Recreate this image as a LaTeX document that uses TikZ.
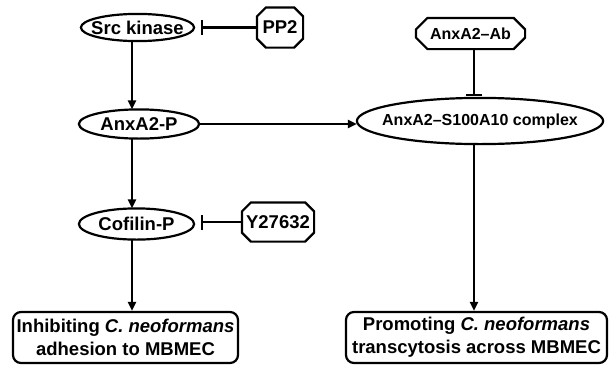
\documentclass[tikz,border=0pt]{standalone}
\usepackage{fontspec}
\setmainfont{Liberation Sans}
\usetikzlibrary{arrows.meta, calc}

\begin{document}
\begin{tikzpicture}[
    x=1pt, y=-1pt,
    line width=2.2pt,
    >={Triangle[length=9pt, width=8pt]},
    every node/.style={font=\fontsize{18.5}{23}\selectfont\bfseries},
    oval/.style={rectangle, inner sep=0pt},
    drug/.style={rectangle, inner sep=0pt},
    outcome/.style={draw, rounded corners=8pt, align=center, inner sep=1pt},
    smallfont/.style={font=\fontsize{16}{19}\selectfont\bfseries},
]
    \useasboundingbox (0,0) rectangle (609,375);

    % columns of the vertical connectors
    \coordinate (lcol) at (132,0);
    \coordinate (rcol) at (474,0);

    % left pathway
    \node[oval, minimum width=111pt, minimum height=25pt] (src) at (137.5,27.5) {Src kinase};
    \node[drug, minimum width=44pt, minimum height=38pt] (pp2) at (280,27.5) {PP2};
    \node[oval, minimum width=118pt, minimum height=27pt] (anxp) at (139,124) {AnxA2-P};
    \node[oval, minimum width=113pt, minimum height=29pt] (cof) at (136.5,224) {Cofilin-P};
    \node[drug, minimum width=70pt, minimum height=37pt] (y27) at (278,222) {Y27632};
    \node[outcome, minimum width=225pt, minimum height=51pt] (inhib) at (125.5,337.5)
        {Inhibiting \textit{C. neoformans}\\adhesion to MBMEC};

    % right pathway
    \node[drug, smallfont, minimum width=107pt, minimum height=29pt] (ab) at (470.5,33.5) {AnxA2--Ab};
    \node[oval, smallfont, minimum width=244pt, minimum height=44pt] (cplx) at (480,121) {AnxA2--S100A10 complex};
    \node[outcome, minimum width=261pt, minimum height=51pt] (promo) at (476.5,337.5)
        {Promoting \textit{C. neoformans}\\transcytosis across MBMEC};

    % elliptic outlines, fitted to the node boxes
    \foreach \nd in {src, anxp, cof, cplx}
        \draw let \p1=(\nd.north east), \p2=(\nd.center) in
            (\nd.center) ellipse [x radius={\x1-\x2}, y radius={\y1-\y2}];

    % octagonal outlines of the inhibitors
    \foreach \nd/\c in {pp2/9, y27/9, ab/11.5}
        \draw ([xshift=\c pt]\nd.north west) -- ([xshift=-\c pt]\nd.north east)
            -- ([yshift=-\c pt]\nd.north east) -- ([yshift=\c pt]\nd.south east)
            -- ([xshift=-\c pt]\nd.south east) -- ([xshift=\c pt]\nd.south west)
            -- ([yshift=\c pt]\nd.south west) -- ([yshift=-\c pt]\nd.north west) -- cycle;

    % activation
    \draw[->] (src.south -| lcol) -- (anxp.north -| lcol);
    \draw[->] (anxp.south -| lcol) -- (cof.north -| lcol);
    \draw[->] (cof.south -| lcol) -- (inhib.north -| lcol);
    \draw[->] (anxp.east) -- (anxp.east -| cplx.west);
    \draw[->] (cplx.south -| rcol) -- (promo.north -| rcol);

    % inhibition
    \draw[-{Bar[width=15pt]}, shorten >=7pt] (pp2.west) -- (src.east);
    \draw[-{Bar[width=15pt]}, shorten >=7pt] (y27.west) -- (y27.west -| cof.east);
    \draw[-{Bar[width=16pt]}, shorten >=2pt] (ab.south -| rcol) -- (cplx.north -| rcol);
\end{tikzpicture}
\end{document}
